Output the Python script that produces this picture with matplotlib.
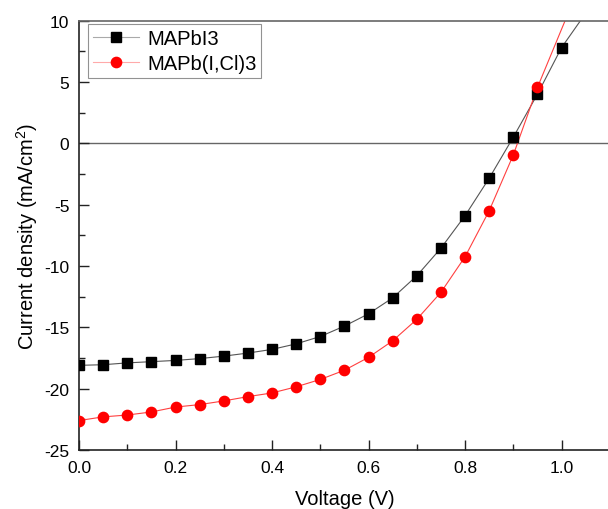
import numpy as np
import matplotlib
matplotlib.use('Agg')
import matplotlib.pyplot as plt
from matplotlib.ticker import MultipleLocator

plt.rcParams['font.family'] = ['Liberation Sans', 'DejaVu Sans']
plt.rcParams['mathtext.fontset'] = 'custom'
plt.rcParams['mathtext.rm'] = 'Liberation Sans'
plt.rcParams['axes.unicode_minus'] = False

voltage = [0.0, 0.05, 0.1, 0.15, 0.2, 0.25, 0.3, 0.35, 0.4, 0.45, 0.5,
           0.55, 0.6, 0.65, 0.7, 0.75, 0.8, 0.85, 0.9, 0.95, 1.0]
j_mapbi3 = [-18.1, -18.05, -17.9, -17.8, -17.7, -17.55, -17.35, -17.1, -16.8, -16.35, -15.75,
            -14.9, -13.9, -12.6, -10.8, -8.55, -5.9, -2.85, 0.5, 4.0, 7.8]
j_mapbicl = [-22.6, -22.3, -22.15, -21.9, -21.5, -21.3, -21.0, -20.65, -20.35, -19.85, -19.25,
             -18.5, -17.45, -16.1, -14.35, -12.15, -9.25, -5.5, -0.95, 4.55]

# fitted curves run on past the last measured point
line_v_black = voltage + [1.05]
line_j_black = j_mapbi3 + [10.6]
line_v_red = voltage[:20] + [1.0, 1.05]
line_j_red = j_mapbicl + [9.3, 14.0]

fig = plt.figure(figsize=(6.08, 5.10), dpi=100)
ax = fig.add_axes([0.130, 0.1157, 0.873, 0.842])

ax.axhline(0, color='#666666', lw=1.0, zorder=1)

ax.plot(line_v_black, line_j_black, '-', color='#555555', lw=0.8, zorder=2)
ax.plot(line_v_red, line_j_red, '-', color='#ff4040', lw=0.8, zorder=2)
ax.plot(voltage, j_mapbi3, 's', color='black', ms=6.8, zorder=3)
ax.plot(voltage[:20], j_mapbicl, 'o', color='red', ms=7.4, zorder=3)

# legend handles: thin light line with marker
h1, = ax.plot([], [], 's-', color='#aaaaaa', ms=6.8, lw=0.8,
              mfc='black', mec='black')
h2, = ax.plot([], [], 'o-', color='#ffaaaa', ms=7.4, lw=0.8,
              mfc='red', mec='red')
leg = ax.legend([h1, h2], ['MAPbI3', 'MAPb(I,Cl)3'], loc='upper left',
                bbox_to_anchor=(0.016, 0.992), fontsize=14.5, frameon=True,
                fancybox=False, handlelength=2.3, handletextpad=0.4,
                borderpad=0.25, labelspacing=0.3, borderaxespad=0.0)
leg.get_frame().set_edgecolor('#777777')
leg.get_frame().set_linewidth(0.8)

ax.set_xlim(0, 1.1)
ax.set_ylim(-25, 10)
ax.xaxis.set_major_locator(MultipleLocator(0.2))
ax.xaxis.set_minor_locator(MultipleLocator(0.1))
ax.yaxis.set_major_locator(MultipleLocator(5))
ax.yaxis.set_minor_locator(MultipleLocator(2.5))
ax.xaxis.set_major_formatter(matplotlib.ticker.FormatStrFormatter('%.1f'))
ax.tick_params(which='major', direction='in', length=7, width=1, labelsize=12.5,
               color='#222222', top=False, right=False, pad=7)
ax.tick_params(which='minor', direction='in', length=4, width=1, color='#222222')

for s in ['left', 'bottom']:
    ax.spines[s].set_color('#222222')
    ax.spines[s].set_linewidth(1.2)
ax.spines['top'].set_color('#666666')
ax.spines['top'].set_linewidth(1.2)
ax.spines['right'].set_color('#666666')

ax.set_xlabel('Voltage (V)', fontsize=14.5, labelpad=10)
ax.set_ylabel('Current density (mA/cm$^2$)', fontsize=14.5, labelpad=3)

fig.savefig('out.png', dpi=100)
